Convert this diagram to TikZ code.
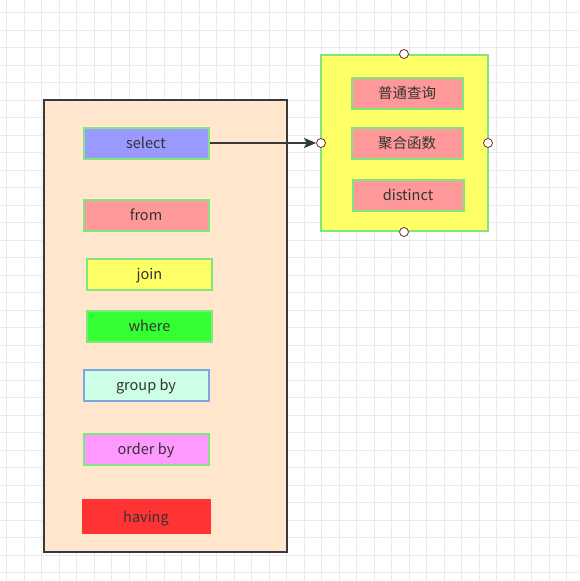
\documentclass[tikz,border=0pt]{standalone}
\usepackage{fontspec}
\setmainfont{Noto Sans CJK SC}
\usetikzlibrary{arrows.meta}

\definecolor{gridc}{RGB}{234,234,234}
\definecolor{peach}{RGB}{255,230,204}
\definecolor{framec}{RGB}{54,57,61}
\definecolor{greenline}{RGB}{128,230,128}
\definecolor{blueline}{RGB}{126,166,224}
\definecolor{txt}{RGB}{51,51,51}
\definecolor{violetf}{RGB}{153,153,255}
\definecolor{pinkf}{RGB}{255,153,153}
\definecolor{yellowf}{RGB}{255,255,102}
\definecolor{greenf}{RGB}{51,255,51}
\definecolor{mintf}{RGB}{204,255,230}
\definecolor{magentaf}{RGB}{255,153,255}
\definecolor{redf}{RGB}{255,51,51}
\definecolor{portc}{RGB}{120,40,40}

\begin{document}
\begin{tikzpicture}[x=1pt, y=-1pt,
    gridline/.style={gridc, line width=1pt},
    item/.style={draw=greenline, line width=2pt, minimum width=125pt, minimum height=31pt,
      inner sep=0pt, text=txt, text height=12pt, text depth=1pt, font=\fontsize{14.5}{16}\selectfont},
    frame/.style={draw=framec, line width=2.2pt, inner sep=0pt},
    port/.style={circle, draw=portc, fill=white, line width=0.8pt, minimum size=9pt, inner sep=0pt},
    link/.style={draw=framec, line width=2pt, -{Stealth[length=12pt, width=10pt, inset=2.5pt]}}]
\useasboundingbox (0,0) rectangle (579,581);
\fill[white] (0,0) rectangle (579,581);

% background grid
\foreach \gx in {6.7,24.2,...,579} \draw[gridline] (\gx,0) -- (\gx,581);
\foreach \gy in {12.7,30.2,...,581} \draw[gridline] (0,\gy) -- (579,\gy);

% left container
\node[frame, fill=peach, minimum width=243pt, minimum height=452pt] (query) at (165.5,326) {};

\node[item, fill=violetf] (select) at (146,143) {select};
\node[item, fill=pinkf] (from) at (146,215) {from};
\node[item, fill=yellowf] (join) at (149.5,274) {join};
\node[item, fill=greenf] (where) at (149.5,326) {where};
\node[item, fill=mintf, draw=blueline] (groupby) at (146,385) {group by};
\node[item, fill=magentaf] (orderby) at (146,449) {order by};
\node[item, fill=redf, draw=redf, minimum width=127pt, minimum height=33pt] (having) at (146,516.5) {having};

% right container
\node[item, fill=yellowf, minimum width=167pt, minimum height=176pt] (selbox) at (404.5,143) {};

\node[item, fill=pinkf, minimum width=111pt] (normal) at (407,93) {普通查询};
\node[item, fill=pinkf, minimum width=111pt] (aggr) at (407,143) {聚合函数};
\node[item, fill=pinkf, minimum width=111pt] (distinct) at (408,195) {distinct};

% connection points
\node[port] (pN) at (404,54) {};
\node[port] (pW) at (321,143) {};
\node[port] (pE) at (488,143) {};
\node[port] (pS) at (404,232) {};

\draw[link] (select.east) -- (pW.west);
\end{tikzpicture}
\end{document}
